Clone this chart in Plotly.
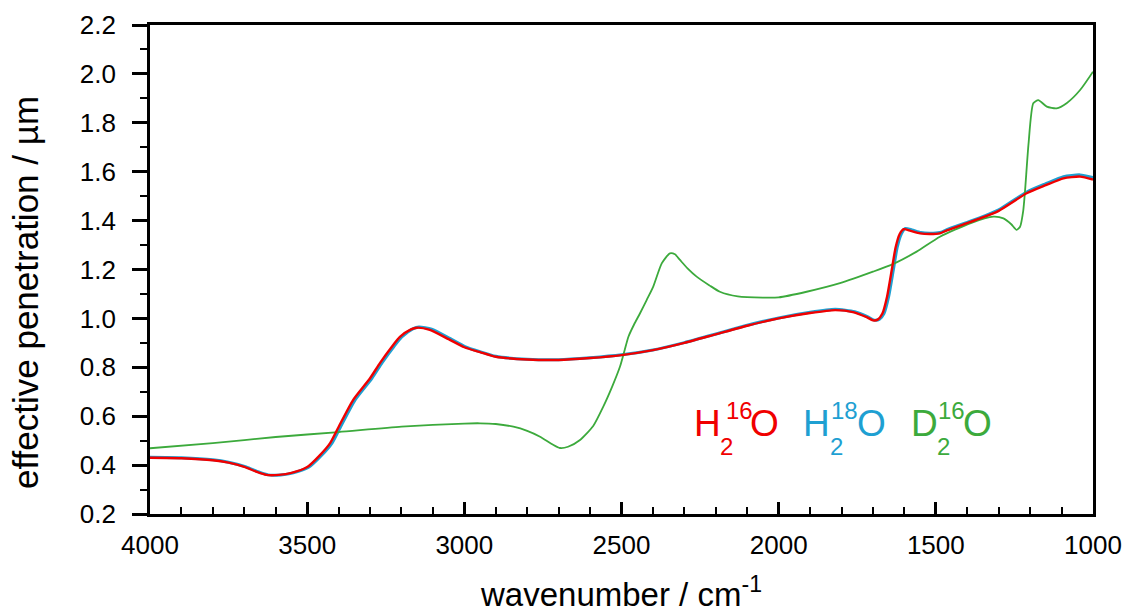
import plotly.graph_objects as go

# H2(16)O
wn_h2o16 = [4000, 3900, 3800, 3750, 3700, 3660, 3630, 3590, 3550, 3500, 3460, 3427, 3400, 3354, 3300,
            3268, 3230, 3205, 3170, 3150, 3110, 3050, 3000, 2950, 2900, 2800, 2700, 2600, 2500, 2400,
            2300, 2200, 2100, 2000, 1900, 1820, 1760, 1720, 1700, 1685, 1670, 1655, 1640, 1628, 1615,
            1602, 1580, 1550, 1520, 1487, 1465, 1400, 1359, 1300, 1211, 1150, 1094, 1041, 1000]
pen_h2o16 = [0.430, 0.428, 0.420, 0.410, 0.393, 0.372, 0.360, 0.360, 0.368, 0.392, 0.440, 0.490, 0.556, 0.666, 0.755,
             0.818, 0.885, 0.924, 0.955, 0.962, 0.953, 0.915, 0.882, 0.862, 0.843, 0.832, 0.830, 0.838, 0.850, 0.870,
             0.900, 0.935, 0.970, 1.000, 1.022, 1.034, 1.025, 1.005, 0.992, 0.995, 1.020, 1.090, 1.200, 1.290, 1.345,
             1.365, 1.358, 1.348, 1.345, 1.348, 1.360, 1.390, 1.409, 1.440, 1.512, 1.545, 1.573, 1.580, 1.568]

# H2(18)O
wn_h2o18 = [4000, 3900, 3800, 3750, 3694, 3654, 3624, 3584, 3544, 3494, 3454, 3421, 3394, 3348, 3294,
            3262, 3224, 3199, 3164, 3144, 3104, 3046, 2998, 2950, 2900, 2800, 2700, 2600, 2500, 2400,
            2300, 2200, 2100, 2000, 1900, 1820, 1758, 1716, 1696, 1680, 1665, 1650, 1635, 1623, 1610,
            1597, 1576, 1548, 1520, 1487, 1465, 1400, 1359, 1300, 1211, 1150, 1094, 1041, 1000]
pen_h2o18 = [0.432, 0.430, 0.422, 0.412, 0.393, 0.372, 0.360, 0.360, 0.368, 0.392, 0.440, 0.490, 0.556, 0.666, 0.755,
             0.818, 0.885, 0.924, 0.957, 0.965, 0.956, 0.918, 0.885, 0.864, 0.845, 0.833, 0.831, 0.839, 0.851, 0.871,
             0.901, 0.936, 0.972, 1.002, 1.025, 1.037, 1.027, 1.006, 0.993, 0.996, 1.020, 1.090, 1.200, 1.290, 1.345,
             1.368, 1.362, 1.351, 1.348, 1.351, 1.363, 1.393, 1.412, 1.444, 1.517, 1.551, 1.580, 1.587, 1.576]

# D2(16)O
wn_d2o16 = [4000, 3800, 3600, 3400, 3200, 3000, 2950, 2900, 2844, 2800, 2759, 2720, 2696, 2670, 2632,
            2590, 2558, 2530, 2505, 2490, 2478, 2460, 2441, 2420, 2399, 2372, 2346, 2330, 2314, 2290,
            2261, 2220, 2187, 2130, 2050, 2000, 1911, 1805, 1700, 1635, 1561, 1487, 1391, 1317, 1285,
            1260, 1243, 1232, 1222, 1216, 1205, 1190, 1174, 1147, 1116, 1084, 1041, 1000]
pen_d2o16 = [0.469, 0.490, 0.515, 0.535, 0.557, 0.570, 0.571, 0.568, 0.557, 0.540, 0.516, 0.485, 0.470, 0.475, 0.503,
             0.560, 0.639, 0.720, 0.802, 0.870, 0.925, 0.975, 1.021, 1.075, 1.130, 1.225, 1.266, 1.262, 1.239, 1.205,
             1.171, 1.135, 1.109, 1.090, 1.085, 1.086, 1.109, 1.144, 1.191, 1.223, 1.273, 1.334, 1.389, 1.416, 1.409,
             1.385, 1.362, 1.375, 1.440, 1.525, 1.716, 1.880, 1.893, 1.866, 1.859, 1.880, 1.934, 2.009]

# label pieces
RED = "rgb(240,0,0)"
CYAN = "rgb(30,160,210)"
GREEN = "rgb(60,170,60)"
FONT = "Liberation Sans, Arial, sans-serif"
BIG, SMALL = 37, 24

label_texts = ["H", "2", "16", "O",
               "H", "2", "18", "O",
               "D", "2", "16", "O"]
label_colors = [RED] * 4 + [CYAN] * 4 + [GREEN] * 4
label_sizes = [BIG, SMALL, SMALL, BIG] * 3
# pixel centres in the 1127x612 picture (plot area 150..1093 x 25..514)
label_px = [707.5, 726.5, 739.0, 764.0,
            816.0, 836.5, 844.0, 871.0,
            924.5, 943.5, 951.0, 977.5]
label_py = [423.5, 446.5, 410.0, 423.5] * 3

L, R, T, B = 150, 1093, 25, 514

fig = go.Figure()
fig.add_trace(go.Scatter(x=wn_h2o18, y=pen_h2o18, mode="lines", name="H2 18O",
                         line=dict(color=CYAN, width=3, shape="spline", smoothing=0.6)))
fig.add_trace(go.Scatter(x=wn_d2o16, y=pen_d2o16, mode="lines", name="D2 16O",
                         line=dict(color=GREEN, width=1.8, shape="spline", smoothing=0.6)))
fig.add_trace(go.Scatter(x=wn_h2o16, y=pen_h2o16, mode="lines", name="H2 16O",
                         line=dict(color=RED, width=2.4, shape="spline", smoothing=0.6)))

for txt, col, sz, px, py in zip(label_texts, label_colors, label_sizes, label_px, label_py):
    fig.add_annotation(x=(px - L) / (R - L), y=(B - py) / (B - T), xref="paper", yref="paper",
                       text=txt, showarrow=False, xanchor="center", yanchor="middle",
                       font=dict(family=FONT, size=sz, color=col), borderpad=0)

# y-axis title (rotated text centred at x=25, y=293 px)
fig.add_annotation(x=(25 - L) / (R - L), y=(B - 293) / (B - T), xref="paper", yref="paper",
                   text="effective penetration / µm", textangle=-90, showarrow=False,
                   xanchor="center", yanchor="middle",
                   font=dict(family=FONT, size=35, color="black"), borderpad=0)
# x-axis title (centred at x=621, y=592 px)
fig.add_annotation(x=(621 - L) / (R - L), y=(B - 592) / (B - T), xref="paper", yref="paper",
                   text="wavenumber / cm<sup>-1</sup>", showarrow=False,
                   xanchor="center", yanchor="middle",
                   font=dict(family=FONT, size=33, color="black"), borderpad=0)

fig.update_layout(
    width=1127, height=612,
    margin=dict(l=L, r=1127 - R, t=T, b=612 - B),
    paper_bgcolor="white", plot_bgcolor="white",
    showlegend=False,
    font=dict(family=FONT, color="black"),
)
fig.update_xaxes(
    range=[4000, 1000], autorange=False, automargin=False,
    showgrid=False, zeroline=False,
    showline=True, linecolor="black", linewidth=2.8, mirror=True,
    ticks="inside", ticklen=12, tickwidth=2.5, tickcolor="black",
    tickmode="linear", tick0=1000, dtick=500,
    minor=dict(ticks="inside", ticklen=7, tickwidth=2, tickcolor="black", dtick=100, tick0=1000),
    tickfont=dict(size=26, family=FONT),
    ticklabelstandoff=6,
)
fig.update_yaxes(
    range=[0.2, 2.2], autorange=False, automargin=False,
    showgrid=False, zeroline=False,
    showline=True, linecolor="black", linewidth=2.8, mirror=True,
    ticks="outside", ticklen=15, tickwidth=2.5, tickcolor="black",
    tickmode="linear", tick0=0.2, dtick=0.2, tickformat=".1f",
    minor=dict(ticks="outside", ticklen=7, tickwidth=2, tickcolor="black", dtick=0.1, tick0=0.2),
    tickfont=dict(size=26, family=FONT),
    ticklabelstandoff=11,
)

fig.write_html("out.html", config={"displayModeBar": False},
               post_script="document.body.style.margin='0px';")
